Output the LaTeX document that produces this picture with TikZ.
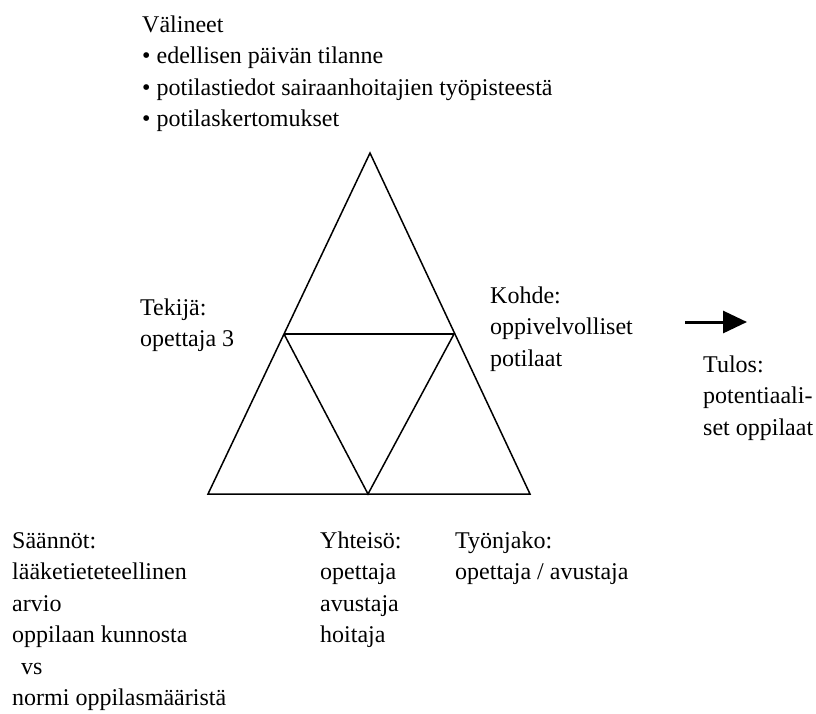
\documentclass[tikz,border=0pt]{standalone}
\usepackage{fontspec}
\setmainfont{Liberation Serif}
\usetikzlibrary{arrows.meta}
\begin{document}
\begin{tikzpicture}[x=1pt,y=-1pt,
  % multi-line labels are placed by the baseline of their last line
  lbl/.style={anchor=base west, inner sep=0pt, align=left,
    font=\fontsize{24}{31.5}\selectfont},
  edge/.style={line width=1.5pt, line join=miter},
  flow/.style={line width=3pt, -{Triangle[length=24pt,width=22pt]}}]
\useasboundingbox (0,0) rectangle (816,713);

% activity triangle and its inner triangle
\coordinate (top) at (370,153);
\coordinate (bl) at (208,494);
\coordinate (br) at (530,494);
\coordinate (ml) at (284,334);
\coordinate (mr) at (454,334);
\coordinate (mb) at (368,494);
\draw[edge] (top) -- (br) -- (bl) -- cycle;
\draw[edge] (ml) -- (mb) -- (mr);
\draw[edge, line width=2.2pt] (ml) -- (mr);

% outcome arrow
\coordinate (arrtail) at (685,322);
\coordinate (arrtip) at (747,322);
\draw[flow] (arrtail) -- (arrtip);

% labels
\node[lbl] (valineet) at (142,126.5) {Välineet\\
  • edellisen päivän tilanne\\
  • potilastiedot sairaanhoitajien työpisteestä\\
  • potilaskertomukset};
\node[lbl] (tekija) at (140,346.5) {Tekijä:\\opettaja 3};
\node[lbl] (kohde) at (490,366) {Kohde:\\oppivelvolliset\\potilaat};
\node[lbl] (tulos) at (703,435) {Tulos:\\potentiaali-\\set oppilaat};
\node[lbl] (saannot) at (12,705.5) {Säännöt:\\lääketieteteellinen\\arvio\\oppilaan kunnosta\\\hspace*{9pt}vs\\normi oppilasmääristä};
\node[lbl] (yhteiso) at (320,642.5) {Yhteisö:\\opettaja\\avustaja\\hoitaja};
\node[lbl] (tyonjako) at (455,579.5) {Työnjako:\\opettaja / avustaja};
\end{tikzpicture}
\end{document}
